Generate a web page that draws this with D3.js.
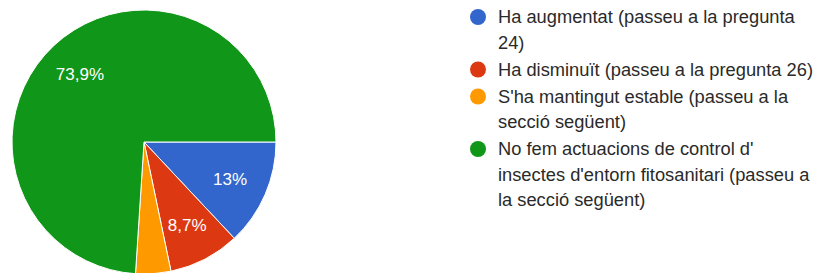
<!DOCTYPE html>
<html>
<head>
<meta charset="utf-8">
<script src="https://cdn.jsdelivr.net/npm/d3@7"></script>
<style>
body { margin: 0; background: #fff; }
svg { display: block; font-family: "Liberation Sans", Arial, sans-serif; }
</style>
</head>
<body>
<div id="chart"></div>
<script>
var categories = [
	"Ha augmentat (passeu a la pregunta 24)",
	"Ha disminuït (passeu a la pregunta 26)",
	"S'ha mantingut estable (passeu a la secció següent)",
	"No fem actuacions de control d' insectes d'entorn fitosanitari (passeu a la secció següent)"
];
var percents = [13, 8.7, 4.3, 73.9];
var colors = ["#3366cc", "#dc3912", "#ff9900", "#109618"];

var width = 815, height = 273;
var cx = 144, cy = 142, radius = 132;

var svg = d3.select("#chart")
	.append("svg")
	.attr("width", width)
	.attr("height", height);

var data = categories.map(function(c, i) {
	return {name: c, value: percents[i], color: colors[i]};
});

// slices start at 3 o'clock and go clockwise
var pie = d3.pie()
	.sort(null)
	.value(function(d) { return d.value; })
	.startAngle(Math.PI / 2)
	.endAngle(Math.PI / 2 + 2 * Math.PI);

var arc = d3.arc().innerRadius(0).outerRadius(radius);
var labelArc = d3.arc().innerRadius(radius * 0.71).outerRadius(radius * 0.71);

var g = svg.append("g").attr("transform", "translate(" + cx + "," + cy + ")");
var arcs = pie(data);

g.selectAll("path")
	.data(arcs)
	.join("path")
	.attr("d", arc)
	.attr("fill", function(d) { return d.data.color; })
	.attr("stroke", "#fff")
	.attr("stroke-width", 1);

g.selectAll("text")
	.data(arcs.filter(function(d) { return d.data.value > 5; }))
	.join("text")
	.attr("transform", function(d) { return "translate(" + labelArc.centroid(d) + ")"; })
	.attr("text-anchor", "middle")
	.attr("dy", "0.35em")
	.attr("fill", "#fff")
	.attr("font-size", "17px")
	.text(function(d) { return String(d.data.value).replace(".", ",") + "%"; });

// legend
var lx = 478, tx = 498, maxW = 322, lineH = 25.5, itemGap = 27;
var legend = svg.append("g").attr("font-size", "18.3px").attr("fill", "#2a2a2a");
var y = 17;
data.forEach(function(d) {
	legend.append("circle")
		.attr("cx", lx).attr("cy", y).attr("r", 8)
		.attr("fill", d.color);
	var words = d.name.split(" ");
	var line = [];
	var t = legend.append("text").attr("x", tx).attr("y", y).attr("dy", "0.35em");
	var lines = 1;
	words.forEach(function(w) {
		line.push(w);
		t.text(line.join(" "));
		if (t.node().getComputedTextLength() > maxW && line.length > 1) {
			line.pop();
			t.text(line.join(" "));
			line = [w];
			t = legend.append("text").attr("x", tx).attr("y", y + lines * lineH).attr("dy", "0.35em").text(w);
			lines++;
		}
	});
	y += (lines - 1) * lineH + itemGap;
});
</script>
</body>
</html>
